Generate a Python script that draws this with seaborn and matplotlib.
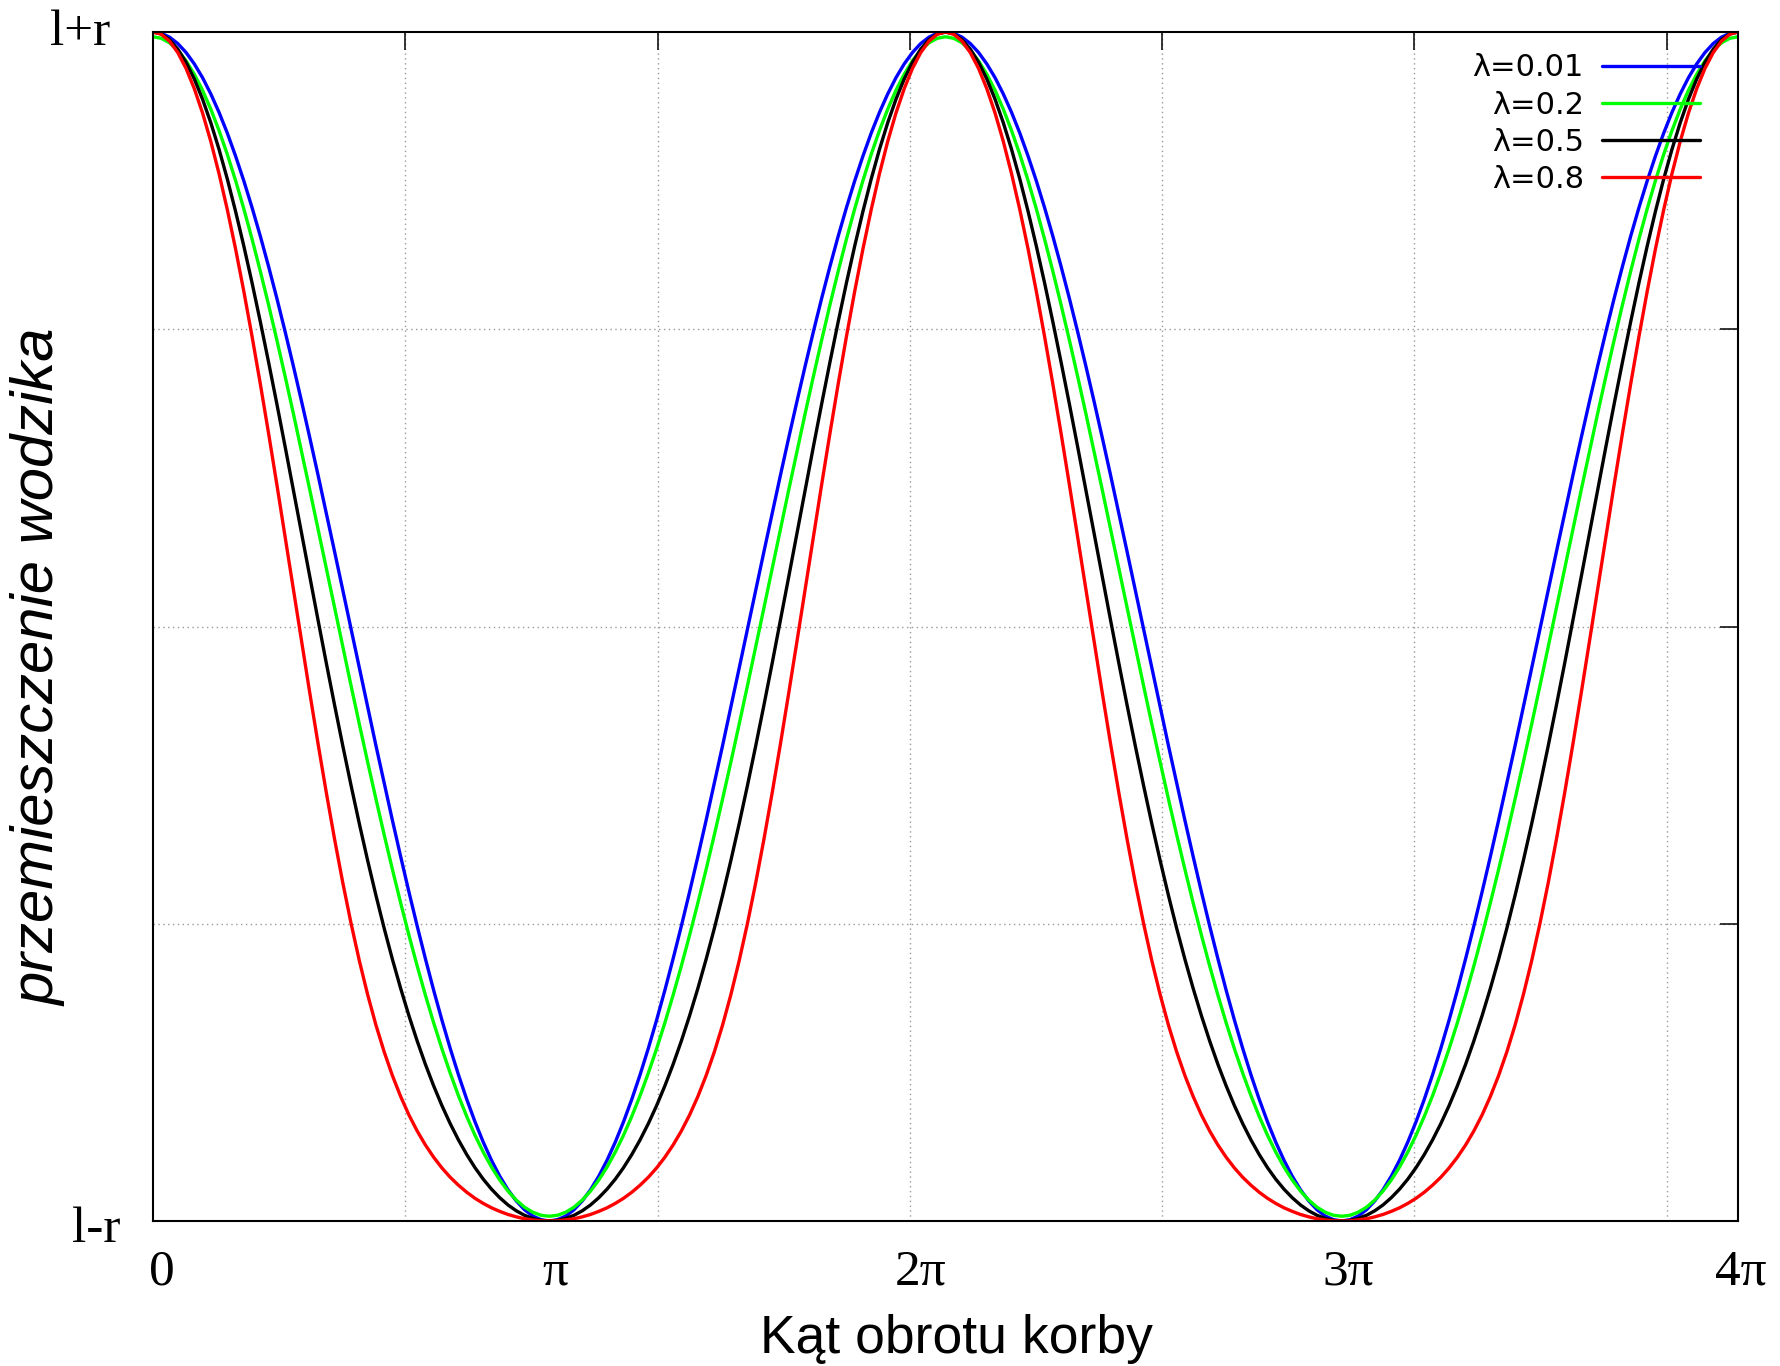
import numpy as np
import pandas as pd
import matplotlib
matplotlib.use("Agg")
import matplotlib.pyplot as plt
import seaborn as sns

# crank angle 0 .. 4*pi, one sample every pi/48
angle = np.linspace(0, 4 * np.pi, 193)

lambdas = ["λ=0.01", "λ=0.2", "λ=0.5", "λ=0.8"]
colors = ["#0000ff", "#00ff00", "#000000", "#ff0000"]

# slider displacement, 0 = l-r, 1 = l+r
disp_001 = [1.0000, 0.9989, 0.9957, 0.9903, 0.9828, 0.9732, 0.9616, 0.9479, 0.9324, 0.9150, 0.8957, 0.8748, 0.8523, 0.8283, 0.8028, 0.7761, 0.7481, 0.7191, 0.6892, 0.6585, 0.6271, 0.5951, 0.5628, 0.5302, 0.4975, 0.4648, 0.4323, 0.4000, 0.3683, 0.3370, 0.3065, 0.2768, 0.2481, 0.2205, 0.1940, 0.1689, 0.1452, 0.1230, 0.1024, 0.0835, 0.0664, 0.0511, 0.0377, 0.0263, 0.0169, 0.0095, 0.0042, 0.0011, 0.0000,
            0.0011, 0.0042, 0.0095, 0.0169, 0.0263, 0.0377, 0.0511, 0.0664, 0.0835, 0.1024, 0.1230, 0.1452, 0.1689, 0.1940, 0.2205, 0.2481, 0.2768, 0.3065, 0.3370, 0.3683, 0.4000, 0.4323, 0.4648, 0.4975, 0.5302, 0.5628, 0.5951, 0.6271, 0.6585, 0.6892, 0.7191, 0.7481, 0.7761, 0.8028, 0.8283, 0.8523, 0.8748, 0.8957, 0.9150, 0.9324, 0.9479, 0.9616, 0.9732, 0.9828, 0.9903, 0.9957, 0.9989, 1.0000,
            0.9989, 0.9957, 0.9903, 0.9828, 0.9732, 0.9616, 0.9479, 0.9324, 0.9150, 0.8957, 0.8748, 0.8523, 0.8283, 0.8028, 0.7761, 0.7481, 0.7191, 0.6892, 0.6585, 0.6271, 0.5951, 0.5628, 0.5302, 0.4975, 0.4648, 0.4323, 0.4000, 0.3683, 0.3370, 0.3065, 0.2768, 0.2481, 0.2205, 0.1940, 0.1689, 0.1452, 0.1230, 0.1024, 0.0835, 0.0664, 0.0511, 0.0377, 0.0263, 0.0169, 0.0095, 0.0042, 0.0011, 0.0000,
            0.0011, 0.0042, 0.0095, 0.0169, 0.0263, 0.0377, 0.0511, 0.0664, 0.0835, 0.1024, 0.1230, 0.1452, 0.1689, 0.1940, 0.2205, 0.2481, 0.2768, 0.3065, 0.3370, 0.3683, 0.4000, 0.4323, 0.4648, 0.4975, 0.5302, 0.5628, 0.5951, 0.6271, 0.6585, 0.6892, 0.7191, 0.7481, 0.7761, 0.8028, 0.8283, 0.8523, 0.8748, 0.8957, 0.9150, 0.9324, 0.9479, 0.9616, 0.9732, 0.9828, 0.9903, 0.9957, 0.9989, 1.0000]
disp_02 = [0.9960, 0.9947, 0.9909, 0.9846, 0.9758, 0.9645, 0.9510, 0.9351, 0.9171, 0.8971, 0.8751, 0.8513, 0.8258, 0.7988, 0.7705, 0.7410, 0.7105, 0.6792, 0.6471, 0.6146, 0.5817, 0.5486, 0.5155, 0.4826, 0.4499, 0.4177, 0.3860, 0.3551, 0.3249, 0.2957, 0.2675, 0.2404, 0.2145, 0.1899, 0.1666, 0.1448, 0.1244, 0.1054, 0.0880, 0.0722, 0.0580, 0.0454, 0.0345, 0.0252, 0.0176, 0.0116, 0.0074, 0.0048, 0.0040,
           0.0048, 0.0074, 0.0116, 0.0176, 0.0252, 0.0345, 0.0454, 0.0580, 0.0722, 0.0880, 0.1054, 0.1244, 0.1448, 0.1666, 0.1899, 0.2145, 0.2404, 0.2675, 0.2957, 0.3249, 0.3551, 0.3860, 0.4177, 0.4499, 0.4826, 0.5155, 0.5486, 0.5817, 0.6146, 0.6471, 0.6792, 0.7105, 0.7410, 0.7705, 0.7988, 0.8258, 0.8513, 0.8751, 0.8971, 0.9171, 0.9351, 0.9510, 0.9645, 0.9758, 0.9846, 0.9909, 0.9947, 0.9960,
           0.9947, 0.9909, 0.9846, 0.9758, 0.9645, 0.9510, 0.9351, 0.9171, 0.8971, 0.8751, 0.8513, 0.8258, 0.7988, 0.7705, 0.7410, 0.7105, 0.6792, 0.6471, 0.6146, 0.5817, 0.5486, 0.5155, 0.4826, 0.4499, 0.4177, 0.3860, 0.3551, 0.3249, 0.2957, 0.2675, 0.2404, 0.2145, 0.1899, 0.1666, 0.1448, 0.1244, 0.1054, 0.0880, 0.0722, 0.0580, 0.0454, 0.0345, 0.0252, 0.0176, 0.0116, 0.0074, 0.0048, 0.0040,
           0.0048, 0.0074, 0.0116, 0.0176, 0.0252, 0.0345, 0.0454, 0.0580, 0.0722, 0.0880, 0.1054, 0.1244, 0.1448, 0.1666, 0.1899, 0.2145, 0.2404, 0.2675, 0.2957, 0.3249, 0.3551, 0.3860, 0.4177, 0.4499, 0.4826, 0.5155, 0.5486, 0.5817, 0.6146, 0.6471, 0.6792, 0.7105, 0.7410, 0.7705, 0.7988, 0.8258, 0.8513, 0.8751, 0.8971, 0.9171, 0.9351, 0.9510, 0.9645, 0.9758, 0.9846, 0.9909, 0.9947, 0.9960]
disp_05 = [1.0000, 0.9984, 0.9936, 0.9856, 0.9746, 0.9605, 0.9435, 0.9237, 0.9013, 0.8764, 0.8492, 0.8200, 0.7890, 0.7563, 0.7223, 0.6873, 0.6514, 0.6150, 0.5783, 0.5415, 0.5051, 0.4690, 0.4337, 0.3993, 0.3660, 0.3339, 0.3032, 0.2740, 0.2462, 0.2201, 0.1956, 0.1727, 0.1514, 0.1317, 0.1136, 0.0970, 0.0819, 0.0682, 0.0559, 0.0449, 0.0352, 0.0268, 0.0196, 0.0135, 0.0086, 0.0048, 0.0021, 0.0005, 0.0000,
           0.0005, 0.0021, 0.0048, 0.0086, 0.0135, 0.0196, 0.0268, 0.0352, 0.0449, 0.0559, 0.0682, 0.0819, 0.0970, 0.1136, 0.1317, 0.1514, 0.1727, 0.1956, 0.2201, 0.2462, 0.2740, 0.3032, 0.3339, 0.3660, 0.3993, 0.4337, 0.4690, 0.5051, 0.5415, 0.5783, 0.6150, 0.6514, 0.6873, 0.7223, 0.7563, 0.7890, 0.8200, 0.8492, 0.8764, 0.9013, 0.9237, 0.9435, 0.9605, 0.9746, 0.9856, 0.9936, 0.9984, 1.0000,
           0.9984, 0.9936, 0.9856, 0.9746, 0.9605, 0.9435, 0.9237, 0.9013, 0.8764, 0.8492, 0.8200, 0.7890, 0.7563, 0.7223, 0.6873, 0.6514, 0.6150, 0.5783, 0.5415, 0.5051, 0.4690, 0.4337, 0.3993, 0.3660, 0.3339, 0.3032, 0.2740, 0.2462, 0.2201, 0.1956, 0.1727, 0.1514, 0.1317, 0.1136, 0.0970, 0.0819, 0.0682, 0.0559, 0.0449, 0.0352, 0.0268, 0.0196, 0.0135, 0.0086, 0.0048, 0.0021, 0.0005, 0.0000,
           0.0005, 0.0021, 0.0048, 0.0086, 0.0135, 0.0196, 0.0268, 0.0352, 0.0449, 0.0559, 0.0682, 0.0819, 0.0970, 0.1136, 0.1317, 0.1514, 0.1727, 0.1956, 0.2201, 0.2462, 0.2740, 0.3032, 0.3339, 0.3660, 0.3993, 0.4337, 0.4690, 0.5051, 0.5415, 0.5783, 0.6150, 0.6514, 0.6873, 0.7223, 0.7563, 0.7890, 0.8200, 0.8492, 0.8764, 0.9013, 0.9237, 0.9435, 0.9605, 0.9746, 0.9856, 0.9936, 0.9984, 1.0000]
disp_08 = [1.0000, 0.9981, 0.9923, 0.9827, 0.9694, 0.9524, 0.9319, 0.9080, 0.8808, 0.8506, 0.8176, 0.7819, 0.7439, 0.7040, 0.6624, 0.6195, 0.5757, 0.5315, 0.4873, 0.4437, 0.4011, 0.3600, 0.3209, 0.2841, 0.2500, 0.2187, 0.1904, 0.1649, 0.1423, 0.1223, 0.1047, 0.0892, 0.0757, 0.0639, 0.0536, 0.0446, 0.0368, 0.0301, 0.0242, 0.0191, 0.0148, 0.0111, 0.0081, 0.0055, 0.0035, 0.0019, 0.0009, 0.0002, 0.0000,
           0.0002, 0.0009, 0.0019, 0.0035, 0.0055, 0.0081, 0.0111, 0.0148, 0.0191, 0.0242, 0.0301, 0.0368, 0.0446, 0.0536, 0.0639, 0.0757, 0.0892, 0.1047, 0.1223, 0.1423, 0.1649, 0.1904, 0.2187, 0.2500, 0.2841, 0.3209, 0.3600, 0.4011, 0.4437, 0.4873, 0.5315, 0.5757, 0.6195, 0.6624, 0.7040, 0.7439, 0.7819, 0.8176, 0.8506, 0.8808, 0.9080, 0.9319, 0.9524, 0.9694, 0.9827, 0.9923, 0.9981, 1.0000,
           0.9981, 0.9923, 0.9827, 0.9694, 0.9524, 0.9319, 0.9080, 0.8808, 0.8506, 0.8176, 0.7819, 0.7439, 0.7040, 0.6624, 0.6195, 0.5757, 0.5315, 0.4873, 0.4437, 0.4011, 0.3600, 0.3209, 0.2841, 0.2500, 0.2187, 0.1904, 0.1649, 0.1423, 0.1223, 0.1047, 0.0892, 0.0757, 0.0639, 0.0536, 0.0446, 0.0368, 0.0301, 0.0242, 0.0191, 0.0148, 0.0111, 0.0081, 0.0055, 0.0035, 0.0019, 0.0009, 0.0002, 0.0000,
           0.0002, 0.0009, 0.0019, 0.0035, 0.0055, 0.0081, 0.0111, 0.0148, 0.0191, 0.0242, 0.0301, 0.0368, 0.0446, 0.0536, 0.0639, 0.0757, 0.0892, 0.1047, 0.1223, 0.1423, 0.1649, 0.1904, 0.2187, 0.2500, 0.2841, 0.3209, 0.3600, 0.4011, 0.4437, 0.4873, 0.5315, 0.5757, 0.6195, 0.6624, 0.7040, 0.7439, 0.7819, 0.8176, 0.8506, 0.8808, 0.9080, 0.9319, 0.9524, 0.9694, 0.9827, 0.9923, 0.9981, 1.0000]

angle_labels = ["0", "π", "2π", "3π", "4π"]
angle_label_pos = [0.0057, 0.2536, 0.4845, 0.7539, 1.0019]  # axes fraction, as placed in the chart

df = pd.DataFrame({
    "angle": np.tile(angle, 4),
    "disp": disp_001 + disp_02 + disp_05 + disp_08,
    "series": np.repeat(lambdas, len(angle)),
})

sns.set_style("white")
plt.rcParams["font.family"] = ["DejaVu Sans"]
plt.rcParams["text.color"] = "black"
plt.rcParams["axes.labelcolor"] = "black"

fig = plt.figure(figsize=(17.8, 13.66), dpi=100)
ax = fig.add_axes([0.08596, 0.10615, 0.89045, 0.87042])

sns.lineplot(data=df, x="angle", y="disp", hue="series", hue_order=lambdas,
             palette=dict(zip(lambdas, colors)), linewidth=2.4,
             estimator=None, sort=False, ax=ax)
for ln in ax.get_lines():
    ln.set_solid_joinstyle("round")

ax.set_xlim(0, 4 * np.pi)
ax.set_ylim(0, 1)
ax.set_xticks([2, 4, 6, 8, 10, 12])
ax.set_xticklabels([])
ax.set_yticks([0.25, 0.5, 0.75])
ax.set_yticklabels([])
ax.tick_params(direction="in", length=13, width=1.1, top=True, right=True, color="black")
ax.grid(True, color="#9a9a9a", linestyle=(0, (1, 2.5)), linewidth=1.0)
ax.set_axisbelow(True)
for s in ax.spines.values():
    s.set_color("black")
    s.set_linewidth(1.5)

serif = ["Liberation Serif", "DejaVu Serif"]
for pos, lab in zip(angle_label_pos, angle_labels):
    ax.text(pos, -0.0538, lab, transform=ax.transAxes, ha="center", va="baseline",
            fontsize=37, family=serif)
ax.text(-0.0271, 0.989, "l+r", transform=ax.transAxes, ha="right", va="baseline", fontsize=37, family=serif)
ax.text(-0.0208, -0.0177, "l-r", transform=ax.transAxes, ha="right", va="baseline", fontsize=37, family=serif)

ax.set_xlabel("Kąt obrotu korby", fontsize=38.5, family=["Liberation Sans", "DejaVu Sans"], va="baseline")
ax.xaxis.set_label_coords(0.507, -0.111)
ax.set_ylabel("przemieszczenie wodzika", fontsize=43, family=["Liberation Sans", "DejaVu Sans"], style="italic")
ax.yaxis.set_label_coords(-0.0543, 0.4655)

handles, labels = ax.get_legend_handles_labels()
ax.legend(handles, labels, loc="upper right", bbox_to_anchor=(0.976, 0.982),
          frameon=False, markerfirst=False, fontsize=22, handlelength=3.2,
          handletextpad=0.6, labelspacing=0.27, borderpad=0, borderaxespad=0)

fig.savefig("out.png", dpi=100)
